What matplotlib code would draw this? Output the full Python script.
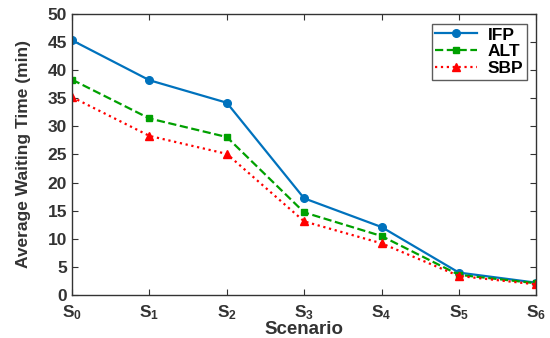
import matplotlib
matplotlib.use("Agg")
import matplotlib.pyplot as plt

# data
escenarios = [r"S$_0$", r"S$_1$", r"S$_2$", r"S$_3$", r"S$_4$", r"S$_5$", r"S$_6$"]
ifp = [45.3, 38.2, 34.2, 17.2, 12.1, 4.0, 2.2]
alt = [38.3, 31.4, 28.1, 14.7, 10.5, 3.6, 2.1]
sbp = [35.2, 28.3, 25.1, 13.1, 9.2, 3.4, 1.9]

plt.rcParams["font.family"] = ["Liberation Sans", "DejaVu Sans"]
plt.rcParams["font.weight"] = "bold"
plt.rcParams["mathtext.fontset"] = "custom"
plt.rcParams["mathtext.rm"] = "Liberation Sans:bold"
plt.rcParams["mathtext.default"] = "rm"

gris = "#333333"

fig = plt.figure(figsize=(5.5, 3.38), dpi=100)
ax = fig.add_axes([0.131, 0.127, 0.844, 0.832])

x = list(range(len(escenarios)))
ax.plot(x, ifp, "-o", color="#0072BD", lw=1.6, ms=5.5, label="IFP")
ax.plot(x, alt, "--s", color="#00A000", lw=1.6, ms=4.5, label="ALT")
ax.plot(x, sbp, ":^", color="#FF0000", lw=1.6, ms=6, label="SBP")

ax.set_xlim(0, 6)
ax.set_ylim(0, 50)
ax.set_xticks(x)
ax.set_xticklabels(escenarios)
ax.set_yticks(range(0, 51, 5))
ax.tick_params(direction="in", top=True, right=True, length=4, colors=gris,
               labelsize=12.5, labelcolor=gris)
ax.tick_params(axis="x", pad=6)
for s in ax.spines.values():
    s.set_color(gris)
    s.set_linewidth(1.0)

ax.set_xlabel("Scenario", fontsize=13.5, color=gris, fontweight="bold", labelpad=-1)
ax.set_ylabel("Average Waiting Time (min)", fontsize=12.5, color=gris, fontweight="bold",
              labelpad=12)

leg = ax.legend(loc="upper right", fontsize=12.5, fancybox=False, edgecolor=gris,
                handlelength=2.4, borderpad=0.2, labelspacing=0.1, handletextpad=0.6,
                bbox_to_anchor=(0.998, 0.995))
leg.get_frame().set_linewidth(1.0)
for t in leg.get_texts():
    t.set_fontweight("bold")

fig.savefig("out.png", dpi=100)
